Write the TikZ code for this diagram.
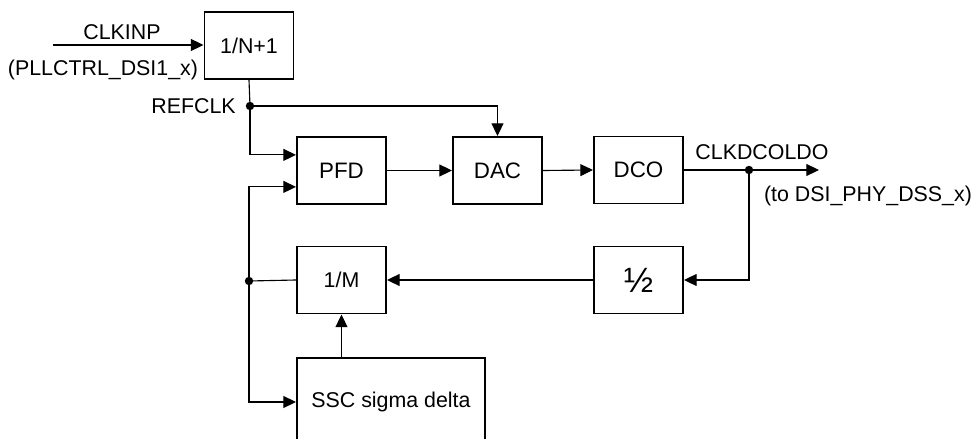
\documentclass[tikz,border=0pt]{standalone}
\usepackage{fontspec}
\setmainfont{Liberation Sans}
\usetikzlibrary{arrows.meta}

\tikzset{
    blk/.style={draw, line width=1.4pt, minimum width=2.225cm, minimum height=1.675cm,
        inner sep=0pt, font=\fontsize{15.2}{18}\selectfont},
    bigblk/.style={blk, font=\fontsize{15.9}{18}\selectfont},
    sig/.style={line width=0.8pt, -{Triangle[length=9pt, width=8.5pt]}},
    wire/.style={line width=0.8pt},
    lbl/.style={font=\fontsize{15.2}{18}\selectfont, inner sep=0pt},
    jdot/.style={circle, fill, inner sep=0pt, minimum size=6pt}
}

\begin{document}
\begin{tikzpicture}[x=0.025cm, y=-0.025cm]
    \clip (0,0) rectangle (976,439);

    % blocks
    \node[blk] (divn) at (249,45.5) {1/N+1};
    \node[bigblk] (pfd) at (341.5,170.5) {PFD};
    \node[bigblk] (dac) at (497.5,170.5) {DAC};
    \node[bigblk] (dco) at (638.5,170) {DCO};
    \node[blk, font=\fontsize{25}{27}\selectfont] (half) at (638.5,280) {½};
    \node[blk] (divm) at (341.5,280) {1/M};
    \node[blk, minimum width=4.7cm, minimum height=2.2cm] (ssc) at (391,402) {SSC sigma delta};

    % junctions and free ends
    \coordinate (clkin) at (53,45);
    \coordinate (refclk) at (250,106);
    \coordinate (clkout) at (749,170);
    \coordinate (clkend) at (819,170);
    \coordinate (fb) at (249,281);

    % input clock
    \draw[sig] (clkin) -- (clkin -| divn.west);
    \node[lbl] (clkinp) at (122,32) {CLKINP};
    \node[lbl] (pllctrl) at (103,70) {(PLLCTRL\_DSI1\_x)};

    % reference clock
    \draw[wire] (divn.south) -- (refclk);
    \node[jdot] (refdot) at (refclk) {};
    \node[lbl, anchor=east] (reflbl) at (236,106) {REFCLK};
    \draw[sig] (refclk) -| (dac.north);
    \draw[sig] (refclk) |- ([yshift=0.39cm]pfd.west);

    % forward path
    \draw[sig] (pfd.east) -- (dac.west);
    \draw[sig] (dac.east) -- (dco.west);
    \draw[sig] (dco.east) -- (clkend);
    \node[jdot] (outdot) at (clkout) {};
    \node[lbl] (dcolbl) at (762,152) {CLKDCOLDO};
    \node[lbl] (tolbl) at (868,196) {(to DSI\_PHY\_DSS\_x)};

    % feedback path
    \draw[sig] (clkout) |- (half.east);
    \draw[sig] (half.west) -- (divm.east);
    \draw[wire] (divm.west) -- (fb);
    \node[jdot] (fbdot) at (fb) {};
    \draw[sig] (fb) |- ([yshift=-0.41cm]pfd.west);
    \draw[sig] (fb) |- (ssc.west);
    \draw[sig] (ssc.north -| divm.south) -- (divm.south);
\end{tikzpicture}
\end{document}
